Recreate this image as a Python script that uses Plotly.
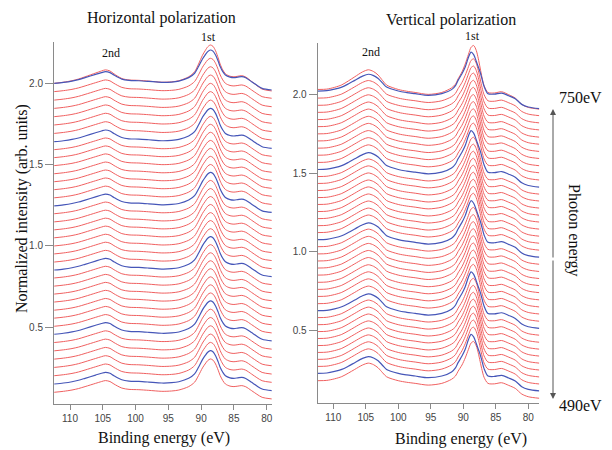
import plotly.graph_objects as go

W, H = 612, 450

# ---------------- data ----------------
# Horizontal polarization: binding energy grid and spectral profile (relative to left edge)
be_h = [112.4, 111.0, 109.7, 108.7, 107.7, 106.1, 105.2, 104.6, 103.9, 103.3, 102.1, 101.0,
        99.5, 98.0, 96.0, 94.5, 93.4, 91.9, 91.0, 90.4, 89.8, 89.4, 89.0, 88.6, 88.2, 87.8,
        87.4, 87.1, 86.7, 86.3, 85.6, 85.0, 84.4, 83.8, 83.2, 82.3, 81.5, 80.7, 79.2]
prof_h = [0.000, 0.006, 0.014, 0.023, 0.035, 0.055, 0.066, 0.072, 0.066, 0.051, 0.026, 0.018,
          0.016, 0.012, 0.006, 0.008, 0.014, 0.035, 0.062, 0.103, 0.150, 0.174, 0.195, 0.205,
          0.198, 0.174, 0.136, 0.103, 0.072, 0.051, 0.038, 0.035, 0.038, 0.041, 0.034, 0.010,
          -0.012, -0.031, -0.041]
# left-edge baselines, bottom (490 eV) to top (750 eV)
offsets_h = [0.100, 0.151, 0.202, 0.253, 0.304, 0.355, 0.406, 0.457, 0.506, 0.556, 0.605,
             0.655, 0.704, 0.753, 0.803, 0.852, 0.901, 0.951, 1.000, 1.050, 1.099, 1.148,
             1.198, 1.247, 1.296, 1.346, 1.395, 1.444, 1.494, 1.543, 1.592, 1.641, 1.692,
             1.744, 1.795, 1.846, 1.897, 1.949, 2.000, 2.000]
blue_h = [1, 7, 15, 23, 31, 38]
scale_h = {39: 1.15}

# Vertical polarization
be_v = [112.4, 111.0, 109.8, 108.7, 107.7, 106.7, 105.5, 104.6, 103.8, 103.1, 102.4, 101.8,
        100.0, 98.7, 97.4, 95.4, 93.3, 91.8, 91.2, 90.8, 90.2, 89.7, 89.2, 88.8, 88.4, 88.0,
        87.7, 87.4, 87.1, 86.8, 86.2, 85.2, 84.1, 83.0, 82.0, 81.0, 80.0, 78.3]
prof_v_blue = [0.000, 0.002, 0.012, 0.025, 0.045, 0.068, 0.095, 0.107, 0.098, 0.080, 0.050,
               0.025, 0.000, -0.010, -0.017, -0.028, -0.017, 0.009, 0.035, 0.068, 0.110,
               0.153, 0.215, 0.248, 0.232, 0.190, 0.155, 0.120, 0.075, 0.030, -0.017, -0.020,
               -0.013, -0.030, -0.049, -0.085, -0.102, -0.112]
prof_v_red = [0.000, 0.002, 0.012, 0.026, 0.048, 0.072, 0.100, 0.112, 0.102, 0.082, 0.050,
              0.025, 0.000, -0.010, -0.017, -0.028, -0.017, 0.009, 0.030, 0.060, 0.100,
              0.145, 0.200, 0.240, 0.250, 0.222, 0.178, 0.122, 0.066, 0.022, -0.017, -0.020,
              -0.013, -0.030, -0.049, -0.085, -0.102, -0.112]
offsets_v = [0.179, 0.226, 0.270, 0.315, 0.359, 0.403, 0.448, 0.492, 0.536, 0.581, 0.625,
             0.670, 0.716, 0.761, 0.806, 0.852, 0.897, 0.942, 0.987, 1.033, 1.078, 1.123,
             1.167, 1.212, 1.257, 1.302, 1.346, 1.391, 1.436, 1.480, 1.525, 1.570, 1.616,
             1.661, 1.707, 1.752, 1.798, 1.843, 1.889, 1.934, 1.980, 2.025, 2.035]
blue_v = [1, 10, 20, 30, 41]
scale_v = {42: 1.12}

xticks = [110, 105, 100, 95, 90, 85, 80]
yticks = [0.5, 1.0, 1.5, 2.0]
yticktext = ["0.5", "1.0", "1.5", "2.0"]

RED = "#f06060"
BLUE = "#4656b8"

fig = go.Figure()


def add_panel(be, offs, blues, scales, prof_red, prof_blue, xa, ya):
    for i, off in enumerate(offs):
        if i in blues:
            continue
        s = scales.get(i, 1.0)
        fig.add_trace(go.Scatter(x=be, y=[off + s * p for p in prof_red], mode="lines",
                                 line=dict(color=RED, width=1, shape="spline", smoothing=0.8),
                                 xaxis=xa, yaxis=ya, showlegend=False, hoverinfo="skip"))
    for i in blues:
        off = offs[i]
        fig.add_trace(go.Scatter(x=be, y=[off + p for p in prof_blue], mode="lines",
                                 line=dict(color=BLUE, width=1.2, shape="spline", smoothing=0.8),
                                 xaxis=xa, yaxis=ya, showlegend=False, hoverinfo="skip"))


add_panel(be_h, offsets_h, blue_h, scale_h, prof_h, prof_h, "x", "y")
add_panel(be_v, offsets_v, blue_v, scale_v, prof_v_red, prof_v_blue, "x2", "y2")

axis_common = dict(showline=True, linecolor="#8a8a8a", linewidth=1, ticks="outside",
                   tickcolor="#8a8a8a", showgrid=False, zeroline=False,
                   tickfont=dict(family="Liberation Sans, Arial, sans-serif", size=10, color="#444"))

fig.update_layout(
    width=W, height=H, margin=dict(l=0, r=0, t=0, b=0),
    paper_bgcolor="white", plot_bgcolor="white",
    xaxis=dict(domain=[54 / W, 271.7 / W], range=[112.44, 79.24], tickvals=xticks,
               ticklen=5, anchor="y", **axis_common),
    yaxis=dict(domain=[1 - 404 / H, 1 - 41.7 / H], range=[0.028, 2.256], tickvals=yticks,
               ticktext=yticktext, ticklen=8, anchor="x", **axis_common),
    xaxis2=dict(domain=[317.7 / W, 539.3 / W], range=[112.4, 78.3], tickvals=xticks,
                ticklen=5, anchor="y2", **axis_common),
    yaxis2=dict(domain=[1 - 403.3 / H, 1 - 42.7 / H], range=[0.035, 2.333], tickvals=yticks,
                ticktext=yticktext, ticklen=8, anchor="x2", **axis_common),
)

SERIF = "Liberation Serif, Times New Roman, serif"


def txt(x, y, s, size, angle=0):
    fig.add_annotation(x=x / W, y=1 - y / H, xref="paper", yref="paper", text=s,
                       showarrow=False, textangle=angle, xanchor="center", yanchor="middle",
                       font=dict(family=SERIF, size=size, color="#111"))


txt(161, 18, "Horizontal polarization", 16)
txt(451, 20, "Vertical polarization", 16)
txt(111, 53, "2nd", 12)
txt(208, 37, "1st", 12)
txt(371, 52, "2nd", 12)
txt(472, 36, "1st", 12)
txt(164, 438, "Binding energy (eV)", 16)
txt(461, 439, "Binding energy (eV)", 16)
txt(22, 209, "Normalized intensity (arb. units)", 16, -90)
txt(574, 230, "Photon energy", 16, 90)
txt(580, 98, "750eV", 16)
txt(580, 405, "490eV", 16)

# double-headed photon-energy arrow
for head_y, tail_dy in [(109, 150), (399, -140)]:
    fig.add_annotation(x=553 / W, y=1 - head_y / H, xref="paper", yref="paper", text="",
                       showarrow=True, ax=0, ay=tail_dy, axref="pixel", ayref="pixel",
                       arrowhead=2, arrowsize=1.2, arrowwidth=1, arrowcolor="#555")

fig.write_html("out.html", config={"displayModeBar": False},
               post_script="document.body.style.margin='0';document.body.style.padding='0';")
